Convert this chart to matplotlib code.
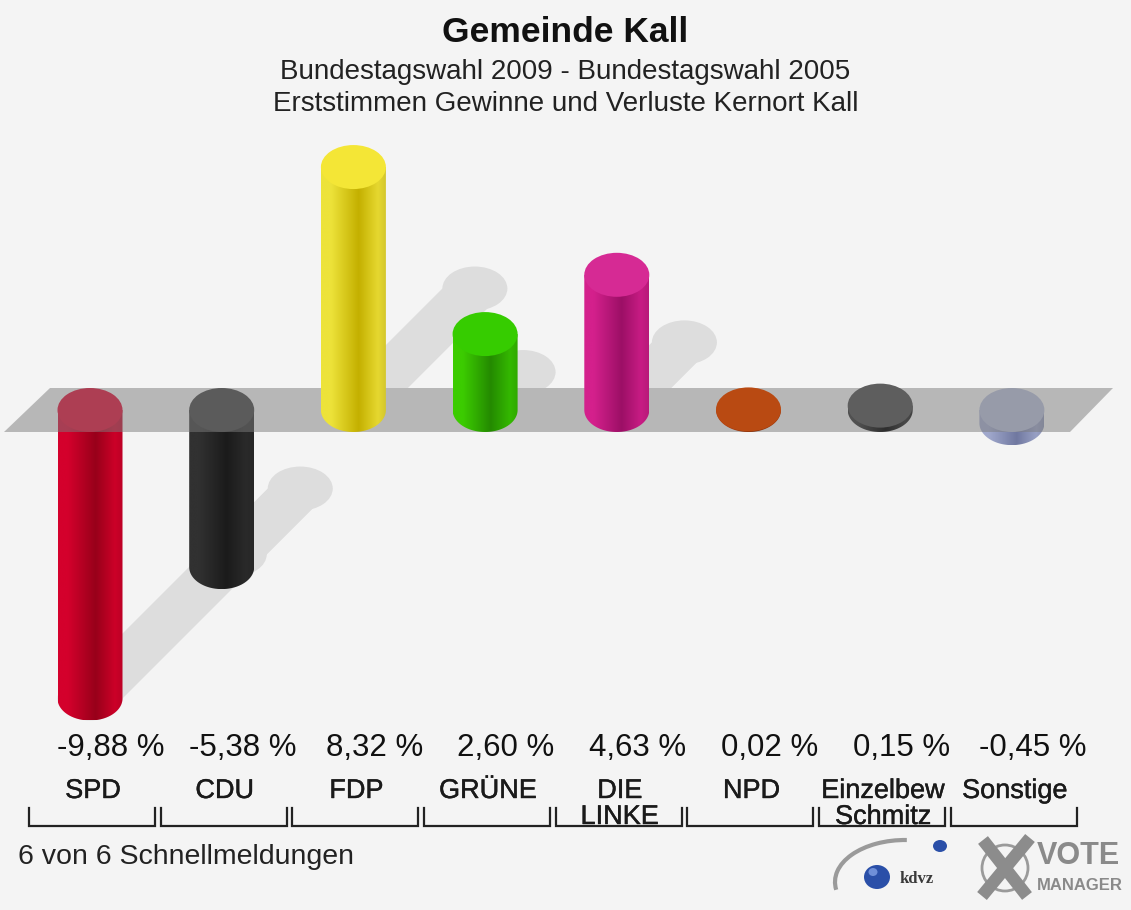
import numpy as np
import matplotlib.pyplot as plt
import matplotlib.patheffects as pe
from matplotlib.patches import Polygon, Ellipse, Rectangle, Arc
from matplotlib.colors import to_rgb

# data
parties = ["SPD", "CDU", "FDP", "GRÜNE", "DIE\nLINKE", "NPD", "Einzelbew\nSchmitz", "Sonstige"]
values = [-9.88, -5.38, 8.32, 2.60, 4.63, 0.02, 0.15, -0.45]
value_labels = ["-9,88 %", "-5,38 %", "8,32 %", "2,60 %", "4,63 %", "0,02 %", "0,15 %", "-0,45 %"]
side_left = ["#d4002c", "#313131", "#ede33a", "#3ccc00", "#d4208c", "#b04010", "#505050", "#a0a8cc"]
side_dark = ["#98001a", "#1b1b1b", "#c4b000", "#248a00", "#9c0f66", "#7a2a08", "#2e2e2e", "#7078a0"]
side_right = ["#cc0028", "#2a2a2a", "#e6d830", "#34b800", "#c81c84", "#a03a0e", "#484848", "#98a0c4"]
cap_colors = ["#e0002a", "#3a3a3a", "#f4e636", "#36cc00", "#d62a94", "#b94a12", "#5e5e5e", "#b4bcd8"]

W, H = 1131, 910
PX_CAT = 131.7      # pixel per category
PX_PCT = 29.2       # pixel per percent
X0 = 90             # pixel x of first bar
ZERO = 410          # pixel y of zero plane
BG = "#f4f4f4"
FONT = "Liberation Sans"

fig = plt.figure(figsize=(W / 100, H / 100), dpi=100, facecolor=BG)
ax = fig.add_axes([0, 0, 1, 1])
ax.set_facecolor(BG)
ax.axis("off")

bw = 65 / PX_CAT        # bar width in data units
eh = 44 / PX_PCT        # ellipse height in data units
band_h = eh / 2

def fx(px):
    return px / W

def fy(py):
    return 1 - py / H

def gradient(i):
    stops = [0.0, 0.15, 0.58, 0.88, 1.0]
    cols = np.array([to_rgb(side_left[i]), to_rgb(side_left[i]), to_rgb(side_dark[i]),
                     to_rgb(side_right[i]), np.array(to_rgb(side_right[i])) * 0.92])
    t = np.linspace(0, 1, 200)
    g = np.stack([np.interp(t, stops, cols[:, k]) for k in range(3)], axis=-1)
    return g[np.newaxis, :, :]

top_clip = Rectangle((-5, band_h), 20, 40, transform=ax.transData, visible=False)
ax.add_patch(top_clip)

# shadows
for i, v in enumerate(values):
    if abs(v) < 1:
        continue
    yb = v if v < 0 else 0
    d = 0.5 * abs(v)
    dx = d * PX_PCT / PX_CAT
    pts = [(i - bw / 2, yb), (i + bw / 2, yb), (i + bw / 2 + dx, yb + d), (i - bw / 2 + dx, yb + d)]
    parts = [Polygon(pts, closed=True),
             Ellipse((i + dx, yb + d), bw, eh),
             Ellipse((i, yb), bw, eh)]
    for p in parts:
        p.set_facecolor("#dddddd")
        p.set_edgecolor("none")
        p.set_zorder(1)
        ax.add_patch(p)
        if v > 0:
            p.set_clip_path(top_clip)

# bars
for i, v in enumerate(values):
    lo, hi = min(0, v), max(0, v)
    z = 2 if v < 0 else 5
    t = np.linspace(0, -np.pi, 60)
    outline = [(i - bw / 2, hi), (i + bw / 2, hi)]
    outline += [(i + bw / 2 * np.cos(a), lo + eh / 2 * np.sin(a)) for a in t]
    body = Polygon(outline, closed=True, facecolor="none", edgecolor="none", zorder=z)
    ax.add_patch(body)
    im = ax.imshow(gradient(i), extent=[i - bw / 2, i + bw / 2, lo - eh / 2, hi],
                   aspect="auto", interpolation="bilinear", zorder=z)
    im.set_clip_path(body)
    ax.add_patch(Ellipse((i, hi), bw, eh, facecolor=cap_colors[i], edgecolor="none", zorder=z + 0.5))

# zero plane band
band = Polygon([((50 - X0) / PX_CAT, band_h), ((1113 - X0) / PX_CAT, band_h),
                ((1070 - X0) / PX_CAT, -band_h), ((4 - X0) / PX_CAT, -band_h)],
               closed=True, facecolor="#7c7c7c", edgecolor="none", alpha=0.5, zorder=4)
ax.add_patch(band)

ax.set_xlim(-X0 / PX_CAT, (W - X0) / PX_CAT)
ax.set_ylim((ZERO - H) / PX_PCT, ZERO / PX_PCT)

# titles
ax.text(0.5, fy(33), "Gemeinde Kall", transform=ax.transAxes, ha="center", va="center",
        fontsize=25.5, fontweight="bold", family=FONT, color="#111111")
ax.text(0.5, fy(72), "Bundestagswahl 2009 - Bundestagswahl 2005", transform=ax.transAxes,
        ha="center", va="center", fontsize=20, family=FONT, color="#222222")
ax.text(0.5, fy(104), "Erststimmen Gewinne und Verluste Kernort Kall", transform=ax.transAxes,
        ha="center", va="center", fontsize=20, family=FONT, color="#222222")

# value and party labels
xt = ax.get_xaxis_transform()
thick = [pe.withStroke(linewidth=0.3, foreground="#1a1a1a")]
for i, v in enumerate(values):
    ax.text(i + 21 / PX_CAT, fy(748), value_labels[i], transform=xt, ha="center", va="center",
            fontsize=22.5, family=FONT, color="#111111")
    for k, line in enumerate(parties[i].split("\n")):
        ax.text(i + 3 / PX_CAT, fy(791 + 26 * k), line, transform=xt, ha="center", va="center",
                fontsize=19.5, family=FONT, color="#1a1a1a", path_effects=thick)
    left, right = i - 61 / PX_CAT, i + 65 / PX_CAT
    ax.plot([left, left, right, right], [fy(808), fy(826), fy(826), fy(808)], transform=xt,
            color="#222222", lw=1.6, solid_joinstyle="miter")

ax.text(fx(18), fy(857), "6 von 6 Schnellmeldungen", transform=ax.transAxes, ha="left",
        va="center", fontsize=20.5, family=FONT, color="#222222")

# logos
ta = ax.transAxes
ax.add_patch(Arc((fx(905), fy(882)), 140 / W, 84 / H, theta1=88, theta2=188, transform=ta,
                 color="#9a9a9a", lw=3))
ax.add_patch(Ellipse((fx(877), fy(877)), 26 / W, 24 / H, transform=ta, facecolor="#2a4fa8",
                     edgecolor="none"))
ax.add_patch(Ellipse((fx(873), fy(872)), 9 / W, 8 / H, transform=ta, facecolor="#6f8fd8",
                     edgecolor="none"))
ax.add_patch(Ellipse((fx(940), fy(846)), 14 / W, 12 / H, transform=ta, facecolor="#2a4fa8",
                     edgecolor="none"))
ax.text(fx(900), fy(879), "kdvz", transform=ta, ha="left", va="center", fontsize=12,
        fontweight="bold", family="Liberation Serif", color="#3a3a3a")
ax.add_patch(Ellipse((fx(1005), fy(868)), 46 / W, 46 / H, transform=ta, facecolor="none",
                     edgecolor="#9a9a9a", lw=2))
ax.plot([fx(982), fx(1030)], [fy(896), fy(838)], transform=ta, color="#8c8c8c", lw=9,
        solid_capstyle="butt")
ax.plot([fx(983), fx(1027)], [fy(840), fy(896)], transform=ta, color="#8c8c8c", lw=9,
        solid_capstyle="butt")
ax.text(fx(1037), fy(856), "VOTE", transform=ta, ha="left", va="center", fontsize=22,
        fontweight="bold", family=FONT, color="#8a8a8a")
ax.text(fx(1037), fy(886), "MANAGER", transform=ta, ha="left", va="center", fontsize=12,
        fontweight="bold", family=FONT, color="#8a8a8a")

fig.savefig("out.png", dpi=100, facecolor=BG)
